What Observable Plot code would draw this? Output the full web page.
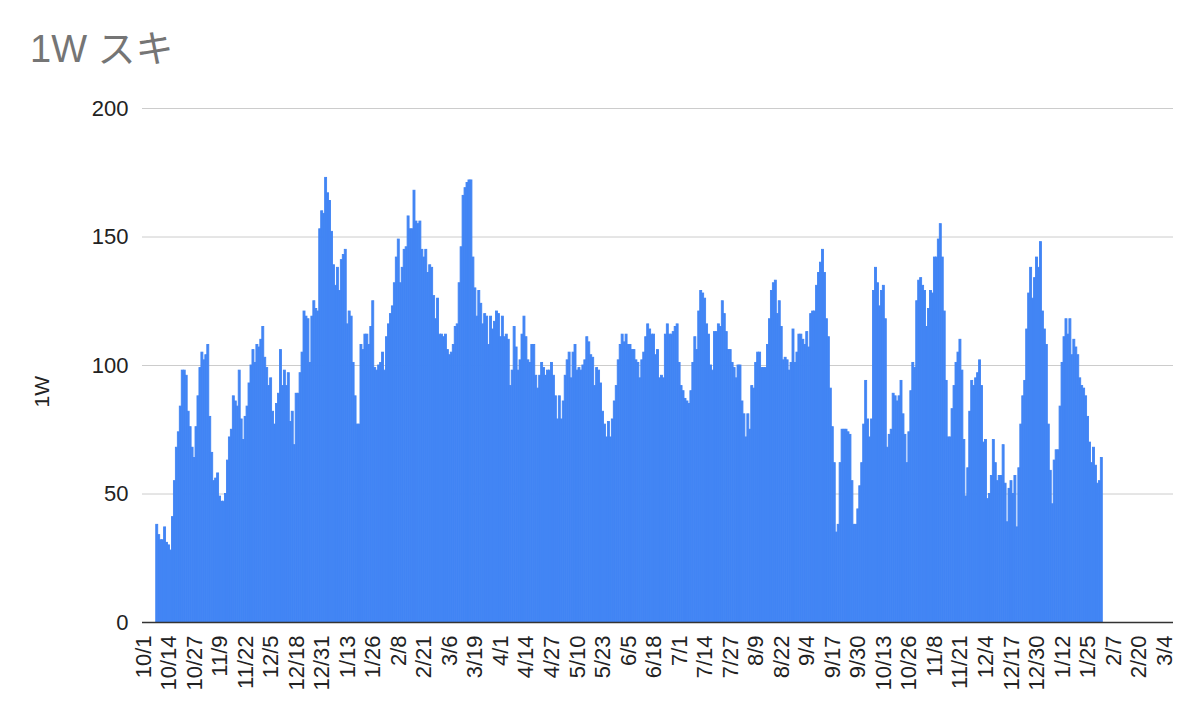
<!DOCTYPE html>
<html>
<head>
<meta charset="utf-8">
<script src="https://cdn.jsdelivr.net/npm/d3@7"></script>
<script src="https://cdn.jsdelivr.net/npm/@observablehq/plot@0.6"></script>
<style>
  html, body { margin: 0; padding: 0; background: #fff; }
  #wrap { position: relative; width: 1200px; }
  #head { position: relative; height: 90px; }
  #title { position: absolute; left: 30px; top: 30px; font-size: 38px; line-height: 38px;
           font-family: "Liberation Sans", Arial, "Noto Sans CJK JP", sans-serif; color: #757575; white-space: nowrap; }
</style>
</head>
<body>
<div id="wrap">
  <div id="head"><div id="title">1W スキ</div></div>
  <div id="chart"></div>
</div>
<script>
// ---- data (daily values, first day 2022-10-08) ----
const firstDay = "2022-10-08";
const seg1 = [38,34,32,32,37,31,30,28,41,55,68,74,84,98,98,96,82,76,68,64,76,88,99,105,102,104,108,80,66,55,56,58,49,47,47,50,63,72,75,88,86,84,98,79,71,80,84,93,100,106,101,108,107,110,115,103];
const seg2 = [99,92,95,82,77,85,89,106,92,98,92,97,78,82,69,89,89,97,105,121,119,118,101,119,125,122,121,153,160,159,173,167,164,152,139,131,138,129,141,143,145,116,121,119,101,88,77,77,108,106,112,112,108,115,125,99,98,100,101,105,98];
const seg3 = [111,116,120,123,132,142,149,132,138,145,146,158,153,153,168,156,155,156,145,142,145,136,139,138,127,118,126,112,112,111,112,106,104,105,108,115,116,132,146,166,169,171,172,172,142,130,119,129,124,116,120,119,108,119,114,117,121,120,111,119,111];
const seg4 = [112,110,92,98,115,107,98,102,112,119,111,102,101,108,108,96,91,96,101,99,96,98,98,101,96,88,79,88,79,86,96,102,105,95,105,108,98,99,98,100,102,111,109,104,103,92,99,98,93,82,77,72,78,72,79,86,92,102,108,112,109];
const seg5 = [112,108,108,106,106,102,101,95,102,105,111,116,114,112,112,104,106,95,96,95,112,116,112,112,113,115,116,101,92,90,87,86,85,90,101,111,106,121,129,128,126,116,112,100,98,113,113,116,115,125,120,113,106,106,101,99,95,100,100,86,81];
const seg6 = [72,81,75,92,91,101,105,105,99,99,99,108,118,129,132,133,120,125,115,102,103,102,98,101,114,101,105,112,112,110,108,113,107,120,121,121,131,136,140,145,136,118,111,91,76,62,35,38,62,75,75,75,74,73,55,38,38,44,53,62,77];
const seg7 = [94,79,72,79,129,138,132,123,129,131,118,68,73,75,89,88,86,88,94,81,73,62,74,90,101,99,125,133,134,131,129,115,122,129,128,142,142,149,155,142,121,94,72,72,83,92,101,105,110,98,71,49,60,82,94,92,95,97,102,92,70];
const seg8 = [71,48,50,57,71,62,55,57,57,69,54,39,52,55,50,57,37,60,77,88,94,114,128,138,126,134,142,138,148,121,114,108,77,59,46,63,67,67,84,101,111,118,112,118,104,110,107,104,95,92,91,88,80,70,62,68,61,54,55,64];

// axis settings
const axisStart = "2022-10-01";
const axisEnd = "2024-03-09";     // exclusive
const tickEvery = 13;              // days between labels
const yTicks = [0, 50, 100, 150, 200];
const yTitle = "1W";

const values = [...seg1, ...seg2, ...seg3, ...seg4, ...seg5, ...seg6, ...seg7, ...seg8];
const t0 = new Date(firstDay + "T00:00:00Z");
const data = values.map((v, i) => ({ date: d3.utcDay.offset(t0, i), v }));
const domain = d3.utcDay.range(new Date(axisStart + "T00:00:00Z"), new Date(axisEnd + "T00:00:00Z"));
const ticks = domain.filter((d, i) => i % tickEvery === 0);

const chart = Plot.plot({
  width: 1200,
  height: 636,
  marginLeft: 142,
  marginRight: 27,
  marginTop: 18,
  marginBottom: 104,
  style: { fontFamily: "'Liberation Sans', Arial, sans-serif", color: "#222", background: "#fff" },
  x: { type: "band", domain, padding: 0, axis: null },
  y: { domain: [0, 200], axis: null },
  marks: [
    Plot.gridY(yTicks.filter(d => d > 0), { stroke: "#cccccc", strokeOpacity: 1, strokeWidth: 1 }),
    Plot.barY(data, { x: "date", y: "v", fill: "#4285f4", stroke: "#4285f4", strokeWidth: 0.9 }),
    Plot.ruleY([0], { stroke: "#333333", strokeWidth: 1.5 }),
    Plot.axisY({ ticks: yTicks, tickSize: 0, tickPadding: 14, label: null, fontSize: 22 }),
    Plot.axisX({ ticks, tickFormat: d3.utcFormat("%-m/%-d"), tickSize: 0, tickPadding: 13, tickRotate: -90, label: null, fontSize: 22 }),
    Plot.text([yTitle], { frameAnchor: "left", dx: -100, dy: 42, rotate: -90, fontSize: 21, fill: "#222" })
  ]
});
document.getElementById("chart").appendChild(chart);
</script>
</body>
</html>
